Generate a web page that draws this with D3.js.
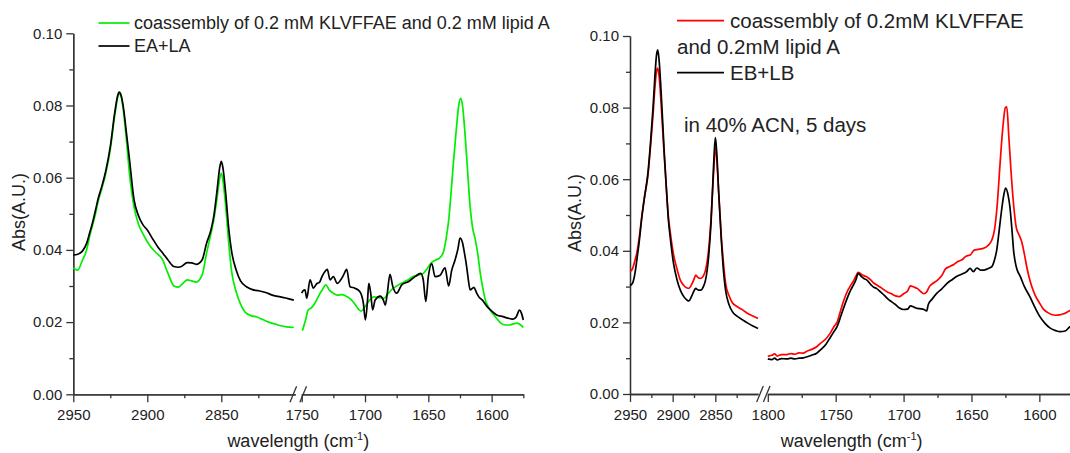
<!DOCTYPE html>
<html><head><meta charset="utf-8">
<script src="https://cdn.jsdelivr.net/npm/d3@7"></script>
<style>
html,body{margin:0;padding:0;background:#fff;}
svg{display:block;font-family:Arial,"Liberation Sans",sans-serif;}
</style></head><body>
<svg id="chart" width="1070" height="453"></svg>
<script>
// ---------- tick values ----------
const yTicks = [0, 0.02, 0.04, 0.06, 0.08, 0.10];
const yMinor = [0.01, 0.03, 0.05, 0.07, 0.09];
const leftLowTicks = [2950, 2900, 2850];
const leftLowMinor = [2925, 2875, 2825];
const leftHighTicks = [1750, 1700, 1650, 1600];
const leftHighMinor = [1725, 1675, 1625, 1575];
const rightLowTicks = [2950, 2900, 2850];
const rightLowMinor = [2925, 2875, 2825];
const rightHighTicks = [1800, 1750, 1700, 1650, 1600];
const rightHighMinor = [1775, 1725, 1675, 1625, 1575];

// ---------- left panel data [wavenumber, absorbance] ----------
const coA_CH = [[2950,0.0350],[2947,0.0344],[2944,0.0370],[2941,0.0400],[2939,0.0437],[2937,0.0468],[2935,0.0500],[2933,0.0538],[2931,0.0566],[2928,0.0613],[2925,0.0678],[2922,0.0772],[2920,0.0822],[2919,0.0833],[2917.5,0.0822],[2916,0.0780],[2914,0.0700],[2912,0.0610],[2909,0.0520],[2906,0.0472],[2903,0.0445],[2898,0.0410],[2894,0.0392],[2890,0.0375],[2886,0.0335],[2882,0.0300],[2879,0.0297],[2877,0.0303],[2873,0.0317],[2870,0.0314],[2867,0.0311],[2863,0.0330],[2860,0.0390],[2857,0.0445],[2855,0.0485],[2853,0.0540],[2851,0.0600],[2850,0.0612],[2849,0.0595],[2847,0.0520],[2845,0.0420],[2843,0.0340],[2840,0.0285],[2837,0.0250],[2834,0.0228],[2830,0.0218],[2826,0.0214],[2822,0.0207],[2818,0.0200],[2814,0.0195],[2810,0.0190],[2806,0.0187],[2801,0.0185]];
const coA_Amide = [[1749.5,0.0176],[1747,0.0205],[1745,0.0233],[1742,0.0241],[1740,0.0250],[1737,0.0270],[1734,0.0288],[1731,0.0303],[1728,0.0288],[1725,0.0280],[1722,0.0275],[1718,0.0276],[1714,0.0270],[1711,0.0262],[1708,0.0250],[1705,0.0235],[1703,0.0230],[1700,0.0243],[1697,0.0258],[1693,0.0270],[1689,0.0268],[1685,0.0266],[1682,0.0278],[1679,0.0290],[1675,0.0300],[1671,0.0308],[1667,0.0315],[1662,0.0326],[1658,0.0330],[1654,0.0335],[1651,0.0348],[1648,0.0363],[1644,0.0372],[1641,0.0378],[1638,0.0395],[1636,0.0430],[1634,0.0480],[1632,0.0560],[1630,0.0650],[1628,0.0730],[1626,0.0800],[1624.5,0.0820],[1623,0.0800],[1621,0.0720],[1619,0.0620],[1617,0.0520],[1615,0.0460],[1613,0.0430],[1611,0.0390],[1609,0.0336],[1607,0.0295],[1605,0.0262],[1602,0.0238],[1599,0.0223],[1596,0.0210],[1593,0.0198],[1589,0.0192],[1586,0.0192],[1583,0.0195],[1580,0.0197],[1577,0.0192],[1575,0.0185]];
const eala_CH = [[2950,0.0386],[2947,0.0388],[2944,0.0396],[2941,0.0418],[2939,0.0446],[2937,0.0475],[2935,0.0510],[2933,0.0545],[2931,0.0572],[2928,0.0620],[2925,0.0686],[2922,0.0780],[2920,0.0828],[2919,0.0837],[2917.5,0.0825],[2916,0.0790],[2914,0.0720],[2912,0.0649],[2909,0.0540],[2906,0.0495],[2903,0.0470],[2900,0.0455],[2896,0.0428],[2893,0.0409],[2889,0.0388],[2886,0.0372],[2882,0.0354],[2879,0.0352],[2877,0.0354],[2873,0.0365],[2870,0.0364],[2867,0.0360],[2863,0.0372],[2860,0.0418],[2857,0.0455],[2855,0.0495],[2853,0.0560],[2851,0.0630],[2850,0.0645],[2849,0.0630],[2847,0.0555],[2845,0.0460],[2843,0.0395],[2840,0.0345],[2837,0.0314],[2833,0.0298],[2829,0.0290],[2825,0.0287],[2820,0.0282],[2815,0.0274],[2810,0.0270],[2805,0.0265],[2801,0.0261]];
const eala_Amide = [[1750,0.0280],[1748.5,0.0288],[1747.4,0.0289],[1746,0.0266],[1743.4,0.0317],[1740.8,0.0294],[1738,0.0307],[1736,0.0310],[1734,0.0326],[1731.6,0.0340],[1729.8,0.0346],[1727.6,0.0317],[1725,0.0326],[1721.9,0.0307],[1719,0.0318],[1717,0.0330],[1714.5,0.0346],[1711.8,0.0298],[1708,0.0294],[1704,0.0284],[1701.3,0.0252],[1699.7,0.0206],[1698,0.0261],[1697,0.0307],[1695.5,0.0280],[1694,0.0234],[1692,0.0261],[1688,0.0272],[1685.5,0.0261],[1684,0.0247],[1682.4,0.0280],[1680.3,0.0332],[1678,0.0298],[1675,0.0280],[1671,0.0303],[1665.8,0.0312],[1660.5,0.0326],[1656,0.0335],[1654,0.0317],[1652,0.0257],[1650,0.0326],[1647.3,0.0362],[1644.7,0.0326],[1640.7,0.0330],[1636.8,0.0350],[1634,0.0300],[1631.5,0.0344],[1628.9,0.0372],[1626.5,0.0405],[1625,0.0433],[1623,0.0420],[1621.4,0.0390],[1620,0.0360],[1618.5,0.0320],[1617,0.0289],[1614,0.0296],[1612,0.0282],[1610.5,0.0272],[1606.6,0.0258],[1604,0.0245],[1601,0.0234],[1596,0.0220],[1591,0.0215],[1586,0.0210],[1583,0.0208],[1580.5,0.0215],[1578,0.0233],[1576.5,0.0225],[1575,0.0206]];

// ---------- right panel data ----------
const coB_CH = [[2950,0.0342],[2947,0.0350],[2944,0.0375],[2942,0.0394],[2939,0.0440],[2936.5,0.0490],[2933,0.0550],[2929,0.0610],[2926,0.0690],[2923,0.0780],[2921,0.0850],[2919,0.0900],[2917.5,0.0910],[2916,0.0890],[2913,0.0790],[2910,0.0670],[2907,0.0560],[2905,0.0495],[2903,0.0455],[2899,0.0390],[2895,0.0350],[2891,0.0318],[2887,0.0303],[2883,0.0296],[2881,0.0295],[2878,0.0305],[2875,0.0320],[2873,0.0332],[2870,0.0325],[2867,0.0323],[2864,0.0330],[2861.5,0.0346],[2858,0.0400],[2855,0.0490],[2852,0.0620],[2850,0.0687],[2848.5,0.0660],[2846,0.0560],[2843,0.0440],[2841,0.0380],[2838,0.0310],[2834,0.0275],[2830,0.0255],[2825,0.0245],[2818,0.0235],[2812,0.0225],[2806,0.0218],[2800,0.0211]];
const coB_Amide = [[1800,0.0105],[1797,0.0108],[1795,0.0112],[1793,0.0106],[1790,0.0110],[1786,0.0110],[1783,0.0113],[1780,0.0111],[1777,0.0115],[1774,0.0114],[1771,0.0120],[1768,0.0124],[1764,0.0132],[1761,0.0142],[1757,0.0155],[1754,0.0170],[1751,0.0190],[1749,0.0200],[1747,0.0225],[1744,0.0262],[1741,0.0290],[1739,0.0303],[1737,0.0315],[1735,0.0330],[1733.5,0.0340],[1731,0.0334],[1729,0.0330],[1727,0.0327],[1724,0.0318],[1722,0.0310],[1720,0.0305],[1717,0.0298],[1714,0.0290],[1712,0.0285],[1709,0.0280],[1706,0.0274],[1703,0.0272],[1700,0.0280],[1697,0.0288],[1695,0.0302],[1692,0.0298],[1690,0.0295],[1687,0.0285],[1685,0.0280],[1683,0.0285],[1681,0.0300],[1678,0.0310],[1675,0.0318],[1672,0.0330],[1669,0.0350],[1666,0.0356],[1663,0.0362],[1660,0.0370],[1657,0.0375],[1654,0.0385],[1651,0.0388],[1648,0.0402],[1645,0.0404],[1642,0.0406],[1639,0.0411],[1637,0.0418],[1635,0.0430],[1633,0.0460],[1631,0.0530],[1629,0.0640],[1627,0.0740],[1625,0.0800],[1624,0.0802],[1622.5,0.0720],[1621,0.0630],[1619,0.0530],[1617,0.0465],[1615,0.0445],[1613,0.0425],[1611,0.0390],[1609,0.0350],[1606,0.0305],[1603,0.0275],[1600,0.0255],[1597,0.0237],[1594,0.0228],[1591,0.0222],[1588,0.0220],[1585,0.0221],[1582,0.0224],[1579,0.0230],[1576,0.0236]];
const eblb_CH = [[2950,0.0303],[2947,0.0310],[2944,0.0340],[2942,0.0374],[2939,0.0430],[2936.5,0.0486],[2933,0.0550],[2929,0.0617],[2926,0.0700],[2923,0.0800],[2921,0.0880],[2919,0.0945],[2917.5,0.0961],[2916,0.0935],[2913,0.0820],[2910,0.0680],[2907,0.0560],[2905,0.0486],[2903,0.0440],[2899,0.0365],[2895,0.0320],[2891,0.0290],[2887,0.0272],[2883,0.0262],[2881,0.0260],[2878,0.0272],[2875,0.0288],[2873,0.0295],[2870,0.0290],[2867,0.0290],[2864,0.0300],[2861.5,0.0318],[2858,0.0380],[2855,0.0480],[2852,0.0640],[2850,0.0716],[2848.5,0.0680],[2846,0.0560],[2843,0.0430],[2841,0.0360],[2838,0.0290],[2834,0.0250],[2830,0.0230],[2825,0.0218],[2818,0.0207],[2812,0.0198],[2806,0.0190],[2800,0.0183]];
const eblb_Amide = [[1800,0.0098],[1797,0.0096],[1795,0.0100],[1793,0.0095],[1790,0.0099],[1786,0.0098],[1783,0.0100],[1780,0.0098],[1777,0.0100],[1774,0.0101],[1771,0.0104],[1768,0.0108],[1764,0.0114],[1761,0.0124],[1757,0.0140],[1754,0.0158],[1751,0.0176],[1749,0.0188],[1746,0.0220],[1742,0.0263],[1739,0.0290],[1737,0.0304],[1735,0.0320],[1733.5,0.0337],[1731,0.0328],[1729,0.0322],[1727,0.0318],[1724,0.0305],[1722,0.0298],[1720,0.0295],[1717,0.0285],[1714,0.0275],[1712,0.0267],[1709,0.0258],[1706,0.0250],[1703,0.0240],[1700,0.0236],[1697,0.0237],[1695,0.0246],[1692,0.0242],[1690,0.0239],[1687,0.0238],[1685,0.0236],[1683,0.0232],[1681.8,0.0250],[1679,0.0265],[1675.6,0.0281],[1672,0.0293],[1668,0.0309],[1664,0.0320],[1661,0.0328],[1657,0.0335],[1653.5,0.0342],[1651,0.0351],[1648.6,0.0342],[1646,0.0352],[1643,0.0346],[1641,0.0346],[1638,0.0350],[1635,0.0356],[1633,0.0375],[1631.4,0.0402],[1629.5,0.0460],[1627.8,0.0514],[1626,0.0560],[1624.8,0.0575],[1623,0.0555],[1621.7,0.0523],[1620,0.0450],[1619,0.0402],[1617,0.0355],[1614,0.0328],[1611,0.0300],[1607,0.0272],[1603,0.0240],[1599.6,0.0216],[1596,0.0198],[1592,0.0184],[1588,0.0177],[1584.8,0.0174],[1581,0.0176],[1577.5,0.0188],[1575,0.0192]];

// ---------- texts ----------
const leftLegend = ["coassembly of 0.2 mM KLVFFAE and 0.2 mM lipid A", "EA+LA"];
const rightLegend = ["coassembly of 0.2mM KLVFFAE", "and 0.2mM lipid A", "EB+LB"];
const rightNote = "in 40% ACN, 5 days";
const yTitle = "Abs(A.U.)";
const xTitle = "wavelength (cm";

const svg = d3.select("#chart");
const TXT = "#222";
const AX = "#333";

function panel(cfg) {
  const g = svg.append("g");
  const y = d3.scaleLinear().domain([0, 0.10]).range(cfg.yRange);
  const xLo = d3.scaleLinear().domain(cfg.loDomain).range(cfg.loRange);
  const xHi = d3.scaleLinear().domain(cfg.hiDomain).range(cfg.hiRange);
  const y0 = y(0);

  function styleAxis(sel) {
    sel.select(".domain").attr("stroke", AX).attr("stroke-width", 1.3);
    sel.selectAll(".tick line").attr("stroke", AX).attr("stroke-width", 1.3);
    sel.selectAll("text").attr("fill", TXT).style("font-size", "15px")
       .style("font-family", "Arial, 'Liberation Sans', sans-serif");
  }
  // y axis
  g.append("g").attr("transform", `translate(${cfg.loRange[0]},0)`)
    .call(d3.axisLeft(y).tickValues(yTicks).tickFormat(d3.format(".2f")).tickSize(7).tickSizeOuter(0).tickPadding(4))
    .call(styleAxis);
  g.append("g").attr("transform", `translate(${cfg.loRange[0]},0)`)
    .call(d3.axisLeft(y).tickValues(yMinor).tickFormat("").tickSize(4).tickSizeOuter(0))
    .call(styleAxis);
  // x axes (two segments)
  [[xLo, cfg.loTicks, cfg.loMinor], [xHi, cfg.hiTicks, cfg.hiMinor]].forEach(([sc, tk, mn]) => {
    g.append("g").attr("transform", `translate(0,${y0})`)
      .call(d3.axisBottom(sc).tickValues(tk).tickFormat(d3.format("d")).tickSize(8).tickSizeOuter(0).tickPadding(7))
      .call(styleAxis);
    g.append("g").attr("transform", `translate(0,${y0})`)
      .call(d3.axisBottom(sc).tickValues(mn).tickFormat("").tickSize(4).tickSizeOuter(0))
      .call(styleAxis);
  });
  // break slashes
  cfg.slashes.forEach(cx => {
    g.append("line").attr("x1", cx - 3.3).attr("y1", y0 + 8).attr("x2", cx + 3.3).attr("y2", y0 - 8)
      .attr("stroke", AX).attr("stroke-width", 1.3);
  });
  // curves
  const lineLo = d3.line().x(d => xLo(d[0])).y(d => y(d[1])).curve(d3.curveMonotoneX);
  const lineHi = d3.line().x(d => xHi(d[0])).y(d => y(d[1])).curve(d3.curveMonotoneX);
  cfg.series.forEach(s => {
    g.append("path").datum(s.lo).attr("d", lineLo).attr("fill", "none")
      .attr("stroke", s.color).attr("stroke-width", 1.7).attr("stroke-linejoin", "round");
    g.append("path").datum(s.hi).attr("d", lineHi).attr("fill", "none")
      .attr("stroke", s.color).attr("stroke-width", 1.7).attr("stroke-linejoin", "round");
  });
  // axis titles
  const xmid = (cfg.loRange[0] + cfg.hiRange[1]) / 2;
  const xt = g.append("text").attr("x", xmid).attr("y", 447).attr("text-anchor", "middle")
    .attr("fill", TXT).style("font-size", "18px").text(xTitle);
  xt.append("tspan").attr("dy", -7).style("font-size", "11px").text("-1");
  xt.append("tspan").attr("dy", 7).text(")");
  g.append("text").attr("transform", `translate(${cfg.yTitleX},${cfg.yTitleY}) rotate(-90)`)
    .attr("text-anchor", "middle").attr("fill", TXT).style("font-size", "18px").text(yTitle);
  return g;
}

panel({
  yRange: [394.3, 33.3],
  loDomain: [2950, 2800], loRange: [73.3, 295.3],
  hiDomain: [1750, 1575], hiRange: [301.7, 523.3],
  loTicks: leftLowTicks, loMinor: leftLowMinor, hiTicks: leftHighTicks, hiMinor: leftHighMinor,
  slashes: [293.3, 303.2],
  series: [{lo: coA_CH, hi: coA_Amide, color: "#00ee00"}, {lo: eala_CH, hi: eala_Amide, color: "#000"}],
  yTitleX: 25, yTitleY: 212
});
panel({
  yRange: [394, 36],
  loDomain: [2950, 2800], loRange: [630, 758],
  hiDomain: [1800, 1575], hiRange: [767.8, 1073.3],
  loTicks: rightLowTicks, loMinor: rightLowMinor, hiTicks: rightHighTicks, hiMinor: rightHighMinor,
  slashes: [760, 766.7],
  series: [{lo: coB_CH, hi: coB_Amide, color: "#ff0000"}, {lo: eblb_CH, hi: eblb_Amide, color: "#000"}],
  yTitleX: 581, yTitleY: 213
});

// legends
function legendLine(x1, x2, yy, color) {
  svg.append("line").attr("x1", x1).attr("x2", x2).attr("y1", yy).attr("y2", yy)
    .attr("stroke", color).attr("stroke-width", 1.7);
}
function legendText(x, yy, t, size) {
  svg.append("text").attr("x", x).attr("y", yy).attr("dy", "0.35em").attr("fill", TXT)
    .style("font-size", size + "px").text(t);
}
legendLine(98.5, 129.5, 23, "#00ee00");
legendText(134, 23, leftLegend[0], 18);
legendLine(98.5, 129.5, 46, "#000");
legendText(134, 46, leftLegend[1], 18);

legendLine(677, 724, 20.7, "#ff0000");
legendText(730, 20.7, rightLegend[0], 20.5);
legendText(677, 46.7, rightLegend[1], 20.5);
legendLine(677, 724, 72.7, "#000");
legendText(730, 72.7, rightLegend[2], 20.5);
legendText(684, 125, rightNote, 20.5);
</script>
</body></html>
